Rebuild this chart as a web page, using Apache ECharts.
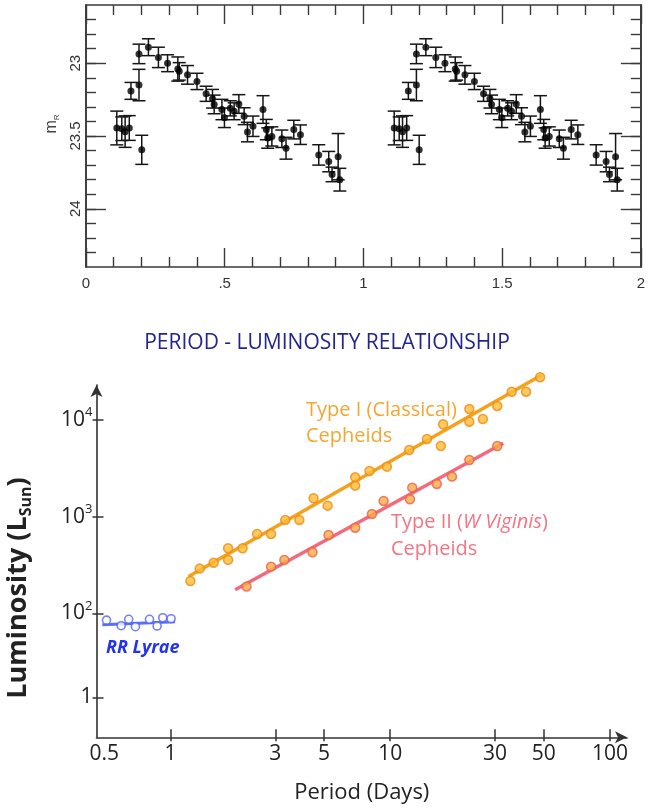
<!DOCTYPE html>
<html><head><meta charset="utf-8">
<script src="https://cdn.jsdelivr.net/npm/echarts@6/dist/echarts.min.js"></script>
<style>html,body{margin:0;padding:0;background:#fff}#c{width:648px;height:809px}</style>
</head><body><div id="c"></div>
<script>
// ---------- Light curve (one pulsation cycle; drawn twice, phase 0-1 and 1-2) ----------
const lcPhase = [0.111,0.129,0.141,0.156,0.201,0.162,0.191,0.191,0.225,0.261,0.294,0.331,0.336,0.366,0.400,0.433,0.456,0.462,0.490,0.499,0.520,0.534,0.551,0.570,0.582,0.602,0.638,0.650,0.655,0.670,0.706,0.721,0.749,0.773,0.839,0.875,0.887,0.909,0.915];
const lcMag   = [23.445,23.45,23.47,23.445,23.595,23.19,23.15,22.936,22.89,22.96,23.00,23.04,23.056,23.08,23.125,23.21,23.244,23.283,23.318,23.375,23.31,23.33,23.28,23.364,23.473,23.433,23.318,23.456,23.514,23.503,23.519,23.584,23.456,23.491,23.63,23.676,23.764,23.642,23.80];
const lcErr   = [0.116,0.081,0.108,0.085,0.10,0.058,0.108,0.067,0.058,0.07,0.058,0.083,0.06,0.064,0.056,0.052,0.064,0.064,0.07,0.067,0.052,0.058,0.064,0.058,0.067,0.07,0.095,0.07,0.07,0.066,0.06,0.075,0.064,0.067,0.07,0.07,0.05,0.159,0.078];
const lcCycles = [0, 1];
const lcXTicks = [0, 0.5, 1, 1.5, 2];
const lcXLabels = ['0', '.5', '1', '1.5', '2'];
const lcYTicks = [23, 23.5, 24];
const lcYLabels = ['23', '23.5', '24'];
const lcYMinor = [22.7,22.8,22.9,23,23.1,23.2,23.3,23.4,23.5,23.6,23.7,23.8,23.9,24,24.1,24.2,24.3];

// ---------- Period - luminosity relationship ----------
const rrPeriod = [0.512,0.597,0.646,0.693,0.803,0.870,0.923,1.007];
const rrLum    = [85,74.5,86.7,72.7,86.7,73.9,90,88];
const rrFitPeriod = [0.49, 1.05];
const rrFitLum    = [76, 82];

const t1Period = [1.233,1.359,1.573,1.83,1.83,2.13,2.48,2.87,3.33,3.86,4.48,5.19,6.93,6.93,8.05,9.66,12.2,14.7,17.0,17.4,22.9,22.9,26.4,30.7,35.7,41.5,48.1];
const t1Lum    = [216,290,334,357,471,471,662,662,925,925,1549,1300,2554,2093,2970,3290,4900,6360,5380,9030,13000,9600,10240,13960,19600,19600,27700];
const t1FitPeriod = [1.21, 48.9];
const t1FitLum    = [240, 29200];

const t2Period = [2.22,2.87,3.3,4.43,5.24,6.93,8.26,9.33,12.3,12.6,16.3,19.1,22.9,30.7];
const t2Lum    = [189,304,357,428,647,769,1066,1453,1513,1995,2180,2595,3855,5380];
const t2FitPeriod = [1.97, 32.7];
const t2FitLum    = [175, 5740];

const plXLabelValues = [0.5, 1, 3, 5, 10, 30, 50, 100];
const plXLabels = ['0.5', '1', '3', '5', '10', '30', '50', '100'];
const plXTickValues = [1, 3, 5, 10, 30, 50, 100];
const plYTickValues = [13.5, 100, 1000, 10000];
const plYLabels = ['{n|1}', '{n|10}{s|2}', '{n|10}{s|3}', '{n|10}{s|4}'];

// ---------- build ----------
const zip = (a, b) => a.map((v, i) => [v, b[i]]);
const lcData = [];
lcCycles.forEach(c => lcPhase.forEach((p, i) => lcData.push([p + c, lcMag[i], lcErr[i]])));

const frame = '#3a3a3a';
const tickStyle = { color: frame, width: 1.4 };
function lcX(pos, labels) {
  return {
    gridIndex: 0, type: 'value', min: 0, max: 2, interval: 0.5, position: pos,
    axisLine: { show: true, onZero: false, lineStyle: { color: frame, width: 1.6 } },
    axisTick: { show: true, inside: true, length: 19, lineStyle: tickStyle },
    minorTick: { show: true, splitNumber: 5, length: 10, lineStyle: tickStyle },
    splitLine: { show: false }, minorSplitLine: { show: false },
    axisLabel: labels ? {
      show: true, margin: 9, fontSize: 15, color: '#333', fontFamily: 'Liberation Sans',
      formatter: v => { const i = lcXTicks.findIndex(t => Math.abs(t - v) < 1e-6); return i >= 0 ? lcXLabels[i] : ''; }
    } : { show: false }
  };
}
function lcY(pos, major, labels) {
  const ax = {
    gridIndex: 0, type: 'value', min: 22.6, max: 24.4, inverse: true, position: pos, offset: 0,
    axisLine: { show: true, onZero: false, lineStyle: { color: frame, width: 1.6 } },
    axisTick: { show: true, inside: true, length: major ? 20 : 10, lineStyle: tickStyle,
                customValues: major ? lcYTicks : lcYMinor },
    splitLine: { show: false },
    axisLabel: { show: false }
  };
  if (labels) {
    ax.axisLabel = {
      show: true, customValues: lcYTicks, rotate: 90, margin: 3, fontSize: 15, color: '#333',
      fontFamily: 'Liberation Sans',
      formatter: v => { const i = lcYTicks.findIndex(t => Math.abs(t - v) < 1e-6); return i >= 0 ? lcYLabels[i] : ''; }
    };
  }
  return ax;
}
const plAxisLine = { show: true, onZero: false, lineStyle: { color: '#333', width: 1.6 } };
const labelFont = { fontFamily: 'Open Sans', fontSize: 21, color: '#222' };

const option = {
  animation: false,
  backgroundColor: '#fff',
  grid: [
    { left: 86, top: 5, width: 555, height: 262 },
    { left: 96.5, top: 385, right: 21, bottom: 71.7 }
  ],
  xAxis: [
    lcX('bottom', true),
    lcX('top', false),
    {
      gridIndex: 1, type: 'log', logBase: 10, min: 0.461, max: 119.5, position: 'bottom', offset: 0,
      axisLine: Object.assign({}, plAxisLine, { symbol: ['none', 'arrow'], symbolSize: [9, 12] }),
      axisTick: { show: true, inside: true, length: 8, customValues: plXTickValues, lineStyle: { color: '#333', width: 1.5 } },
      minorTick: { show: false }, splitLine: { show: false }, minorSplitLine: { show: false },
      axisLabel: Object.assign({ show: true, margin: 6, customValues: plXLabelValues,
        formatter: v => { const i = plXLabelValues.findIndex(t => Math.abs(Math.log10(t) - Math.log10(v)) < 0.01); return i >= 0 ? plXLabels[i] : ''; } }, labelFont),
      name: 'Period (Days)', nameLocation: 'middle', nameGap: 44,
      nameTextStyle: { fontFamily: 'Open Sans', fontSize: 22, color: '#222' }
    },
    {
      gridIndex: 1, type: 'log', logBase: 10, min: 0.461, max: 119.5, position: 'bottom', offset: 0,
      axisLine: { show: false },
      axisTick: { show: true, inside: false, length: 4, customValues: plXTickValues, lineStyle: { color: '#333', width: 1.5 } },
      splitLine: { show: false }, axisLabel: { show: false }
    }
  ],
  yAxis: [
    lcY('left', false, false),
    lcY('left', true, true),
    lcY('right', false, false),
    lcY('right', true, false),
    {
      gridIndex: 1, type: 'log', logBase: 10, min: 5.22, max: 23000, position: 'left', offset: 0,
      axisLine: Object.assign({}, plAxisLine, { symbol: ['none', 'arrow'], symbolSize: [9, 12] }),
      axisTick: { show: true, inside: true, length: 7, customValues: plYTickValues, lineStyle: { color: '#333', width: 1.5 } },
      minorTick: { show: false }, splitLine: { show: false }, minorSplitLine: { show: false },
      axisLabel: {
        show: true, margin: 4, customValues: plYTickValues,
        formatter: v => { const i = plYTickValues.findIndex(t => Math.abs(Math.log10(t) - Math.log10(v)) < 0.01); return i >= 0 ? plYLabels[i] : ''; },
        rich: {
          n: { fontFamily: 'Open Sans', fontSize: 21, color: '#222', lineHeight: 28 },
          s: { fontFamily: 'Open Sans', fontSize: 13, color: '#222', lineHeight: 13, verticalAlign: 'top' }
        }
      }
    },
    {
      gridIndex: 1, type: 'log', logBase: 10, min: 5.22, max: 23000, position: 'left', offset: 0,
      axisLine: { show: false },
      axisTick: { show: true, inside: false, length: 4, customValues: plYTickValues, lineStyle: { color: '#333', width: 1.5 } },
      splitLine: { show: false }, axisLabel: { show: false }
    }
  ],
  series: [
    {
      type: 'custom', xAxisIndex: 0, yAxisIndex: 0, data: lcData, z: 2,
      renderItem: (params, api) => {
        const x = api.value(0), y = api.value(1), e = api.value(2);
        const top = api.coord([x, y - e]), bot = api.coord([x, y + e]);
        const hw = 6.5;
        const st = { stroke: '#151515', lineWidth: 1.5 };
        return { type: 'group', children: [
          { type: 'line', shape: { x1: top[0], y1: top[1], x2: bot[0], y2: bot[1] }, style: st },
          { type: 'line', shape: { x1: top[0] - hw, y1: top[1], x2: top[0] + hw, y2: top[1] }, style: st },
          { type: 'line', shape: { x1: bot[0] - hw, y1: bot[1], x2: bot[0] + hw, y2: bot[1] }, style: st }
        ] };
      }
    },
    {
      type: 'scatter', xAxisIndex: 0, yAxisIndex: 0, z: 3,
      data: lcData.map(d => [d[0], d[1]]), symbolSize: 7,
      itemStyle: { color: '#000' }
    },
    // PL fit lines
    { type: 'line', xAxisIndex: 2, yAxisIndex: 4, data: zip(rrFitPeriod, rrFitLum), showSymbol: false, symbol: 'none', clip: false, z: 2,
      lineStyle: { color: '#5c6ef2', width: 3 } },
    { type: 'line', xAxisIndex: 2, yAxisIndex: 4, data: zip(t1FitPeriod, t1FitLum), showSymbol: false, symbol: 'none', clip: false, z: 2,
      lineStyle: { color: '#f5a11c', width: 3.5 } },
    { type: 'line', xAxisIndex: 2, yAxisIndex: 4, data: zip(t2FitPeriod, t2FitLum), showSymbol: false, symbol: 'none', clip: false, z: 2,
      lineStyle: { color: '#f46a7c', width: 3.5 } },
    // PL points
    { type: 'scatter', xAxisIndex: 2, yAxisIndex: 4, data: zip(rrPeriod, rrLum), symbolSize: 8, clip: false, z: 3,
      itemStyle: { color: '#fff', borderColor: '#4f62f2', borderWidth: 1.6 } },
    { type: 'scatter', xAxisIndex: 2, yAxisIndex: 4, data: zip(t1Period, t1Lum), symbolSize: 9, clip: false, z: 3,
      itemStyle: { color: '#fbbd35', borderColor: '#ec8a18', borderWidth: 1.5 } },
    { type: 'scatter', xAxisIndex: 2, yAxisIndex: 4, data: zip(t2Period, t2Lum), symbolSize: 9, clip: false, z: 3,
      itemStyle: { color: '#f8ad45', borderColor: '#ea5f4e', borderWidth: 1.5 } }
  ],
  graphic: [
    { type: 'text', x: 52, y: 124, rotation: Math.PI / 2, z: 10,
      style: { text: '{m|m}{r|R}', align: 'center', verticalAlign: 'middle',
        rich: { m: { fontFamily: 'Liberation Sans', fontSize: 16, fill: '#444', lineHeight: 18 },
                r: { fontFamily: 'Liberation Sans', fontSize: 8, fill: '#444', lineHeight: 8, verticalAlign: 'bottom' } } } },
    { type: 'text', x: 327, y: 343, z: 10,
      style: { text: 'PERIOD - LUMINOSITY RELATIONSHIP', fontFamily: 'Open Sans', fontSize: 21, fill: '#24248e',
        align: 'center', verticalAlign: 'middle' } },
    { type: 'text', x: 18, y: 588, rotation: Math.PI / 2, z: 10,
      style: { text: '{a|Luminosity (L}{s|Sun}{a|)}', align: 'center', verticalAlign: 'middle',
        rich: { a: { fontFamily: 'Open Sans', fontWeight: 'bold', fontSize: 27, fill: '#222', lineHeight: 32 },
                s: { fontFamily: 'Open Sans', fontWeight: 'bold', fontSize: 16, fill: '#222', lineHeight: 16, verticalAlign: 'bottom' } } } },
    { type: 'text', x: 306, y: 410, z: 10,
      style: { text: 'Type I (Classical)', fontFamily: 'Open Sans', fontSize: 20, fill: '#f2a733', align: 'left', verticalAlign: 'middle' } },
    { type: 'text', x: 306, y: 436, z: 10,
      style: { text: 'Cepheids', fontFamily: 'Open Sans', fontSize: 20, fill: '#f2a733', align: 'left', verticalAlign: 'middle' } },
    { type: 'text', x: 391, y: 522, z: 10,
      style: { text: '{a|Type II (}{i|W Viginis}{a|)}', align: 'left', verticalAlign: 'middle',
        rich: { a: { fontFamily: 'Open Sans', fontSize: 20, fill: '#f27584' },
                i: { fontFamily: 'Open Sans', fontStyle: 'italic', fontSize: 20, fill: '#f27584' } } } },
    { type: 'text', x: 391, y: 549, z: 10,
      style: { text: 'Cepheids', fontFamily: 'Open Sans', fontSize: 20, fill: '#f27584', align: 'left', verticalAlign: 'middle' } },
    { type: 'text', x: 106, y: 648, z: 10,
      style: { text: 'RR Lyrae', fontFamily: 'Open Sans', fontWeight: 'bold', fontStyle: 'italic', fontSize: 18, fill: '#2233ee', align: 'left', verticalAlign: 'middle' } }
  ]
};
const chart = echarts.init(document.getElementById('c'));
chart.setOption(option);
</script>
</body></html>
